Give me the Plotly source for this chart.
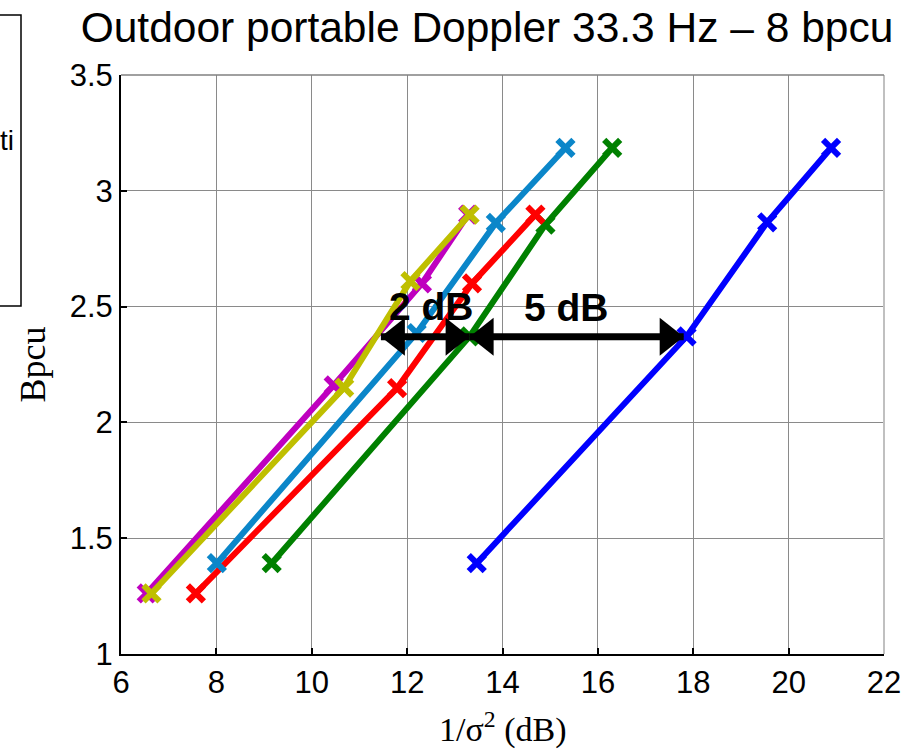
import plotly.graph_objects as go

# ---------------- data ----------------
magenta_x = [6.54, 10.46, 12.31, 13.28]
magenta_y = [1.262, 2.16, 2.60, 2.897]

yellow_x = [6.64, 10.68, 12.07, 13.31]
yellow_y = [1.262, 2.15, 2.61, 2.897]

lightblue_x = [8.01, 12.20, 13.86, 15.32]
lightblue_y = [1.392, 2.386, 2.861, 3.185]

red_x = [7.57, 11.79, 13.36, 14.69]
red_y = [1.262, 2.148, 2.60, 2.897]

green_x = [9.16, 13.31, 14.90, 16.30]
green_y = [1.392, 2.371, 2.854, 3.185]

blue_x = [13.46, 17.86, 19.55, 20.89]
blue_y = [1.392, 2.371, 2.864, 3.185]

x_ticks = [6, 8, 10, 12, 14, 16, 18, 20, 22]
y_ticks = [1, 1.5, 2, 2.5, 3, 3.5]

arrow_y = 2.37
arrow_2db = [11.45, 13.31]
arrow_5db = [13.31, 17.80]
label_2db = ("2 dB", 12.52, 2.50)
label_5db = ("5 dB", 15.35, 2.495)

title_text = "Outdoor portable Doppler 33.3 Hz \u2013 8 bpcu"

# ---------------- layout constants ----------------
W, H = 913, 750
L, R, T, B = 121, 29, 75, 96
PW, PH = W - L - R, H - T - B

def px_x(px):
    return (px - L) / PW

def px_y(py):
    return (H - B - py) / PH

SANS = "Liberation Sans, Arial, sans-serif"
SERIF = "Liberation Serif, Times New Roman, serif"

fig = go.Figure()

series = [
    (blue_x, blue_y, "#0000FF"),
    (green_x, green_y, "#008000"),
    (red_x, red_y, "#FF0000"),
    (lightblue_x, lightblue_y, "#0B86C9"),
    (magenta_x, magenta_y, "#BF00BF"),
    (yellow_x, yellow_y, "#BFBF00"),
]
for xs, ys, c in series:
    fig.add_trace(go.Scatter(
        x=xs, y=ys, mode="lines+markers",
        line=dict(color=c, width=6),
        marker=dict(symbol="x-thin", size=16, line=dict(color=c, width=6)),
        showlegend=False, hoverinfo="skip",
    ))

shapes = []
shapes.append(dict(type="line", xref="paper", yref="paper", x0=1, x1=1, y0=0, y1=1,
                   line=dict(color="#c0c0c0", width=2)))
shapes.append(dict(type="line", xref="paper", yref="paper", x0=0, x1=1, y0=1, y1=1,
                   line=dict(color="#808080", width=1.5)))

HEAD_L, HEAD_H = 24, 19

def add_double_arrow(x0, x1, y):
    shapes.append(dict(type="line", xref="x", yref="y", x0=x0, x1=x1, y0=y, y1=y,
                       line=dict(color="black", width=7)))
    shapes.append(dict(type="path", xref="x", yref="y", xsizemode="pixel", ysizemode="pixel",
                       xanchor=x0, yanchor=y,
                       path=f"M0,0 L{HEAD_L},{HEAD_H} L{HEAD_L},{-HEAD_H} Z",
                       fillcolor="black", line=dict(color="black", width=0)))
    shapes.append(dict(type="path", xref="x", yref="y", xsizemode="pixel", ysizemode="pixel",
                       xanchor=x1, yanchor=y,
                       path=f"M0,0 L{-HEAD_L},{HEAD_H} L{-HEAD_L},{-HEAD_H} Z",
                       fillcolor="black", line=dict(color="black", width=0)))

add_double_arrow(arrow_2db[0], arrow_2db[1], arrow_y)
add_double_arrow(arrow_5db[0], arrow_5db[1], arrow_y)

# cut-off legend box at left
shapes.append(dict(type="rect", xref="paper", yref="paper",
                   x0=px_x(-3), x1=px_x(21), y0=px_y(306), y1=px_y(15),
                   line=dict(color="black", width=1.5), fillcolor="white"))

annotations = []
for txt, ax, ay in (label_2db, label_5db):
    annotations.append(dict(x=ax, y=ay, xref="x", yref="y", text=f"<b>{txt}</b>",
                            showarrow=False, font=dict(family=SANS, size=39, color="black"),
                            xanchor="center", yanchor="middle"))

annotations.append(dict(x=px_x(16), y=px_y(140), xref="paper", yref="paper", text="ti",
                        showarrow=False, font=dict(family=SANS, size=28, color="black"),
                        xanchor="right", yanchor="middle"))

annotations.append(dict(x=0.5, y=0, xref="paper", yref="paper",
                        text="1/\u03c3<sup>2</sup> (dB)", showarrow=False,
                        font=dict(family=SERIF, size=34, color="black"),
                        xanchor="center", yanchor="middle", yshift=-73))
annotations.append(dict(x=0, y=0.5, xref="paper", yref="paper", text="Bpcu",
                        showarrow=False, textangle=-90,
                        font=dict(family=SERIF, size=36, color="black"),
                        xanchor="center", yanchor="middle", xshift=-89))

fig.update_layout(
    width=W, height=H,
    margin=dict(l=L, r=R, t=T, b=B),
    paper_bgcolor="white", plot_bgcolor="white",
    title=dict(text=title_text, x=487 / W, xref="container", xanchor="center",
               y=1 - 27 / H, yref="container", yanchor="middle",
               font=dict(family=SANS, size=42.5, color="black")),
    shapes=shapes, annotations=annotations,
    showlegend=False,
)
fig.update_xaxes(range=[6, 22], tickvals=x_ticks, ticktext=[str(v) for v in x_ticks],
                 showgrid=True, gridcolor="#8a8a8a", gridwidth=1,
                 showline=True, linecolor="black", linewidth=2,
                 ticks="inside", ticklen=6, tickcolor="black", tickwidth=1.5,
                 tickfont=dict(family=SANS, size=31, color="black"),
                 zeroline=False)
fig.update_yaxes(range=[1, 3.5], tickvals=y_ticks,
                 ticktext=["1", "1.5", "2", "2.5", "3", "3.5"],
                 showgrid=True, gridcolor="#8a8a8a", gridwidth=1,
                 showline=True, linecolor="black", linewidth=2,
                 ticks="inside", ticklen=6, tickcolor="black", tickwidth=1.5,
                 tickfont=dict(family=SANS, size=31, color="black"),
                 zeroline=False)

fig.write_html("out.html", config={"displayModeBar": False},
               post_script="document.body.style.margin='0';document.body.style.overflow='hidden';")
